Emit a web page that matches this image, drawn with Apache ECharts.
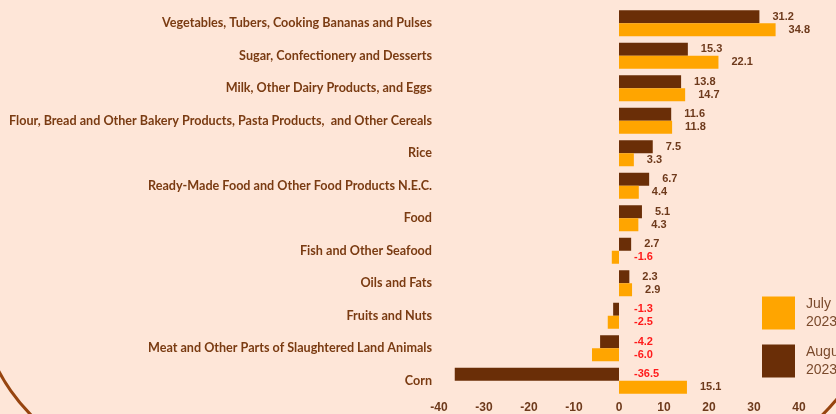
<!DOCTYPE html>
<html>
<head>
<meta charset="utf-8">
<script src="https://cdn.jsdelivr.net/npm/echarts@6/dist/echarts.min.js"></script>
<style>
html,body{margin:0;padding:0;background:#FEE6D8;}
#chart{width:836px;height:414px;}
</style>
</head>
<body>
<div id="chart"></div>
<script>
var categories = [
  'Vegetables, Tubers, Cooking Bananas and Pulses',
  'Sugar, Confectionery and Desserts',
  'Milk, Other Dairy Products, and Eggs',
  'Flour, Bread and Other Bakery Products, Pasta Products,  and Other Cereals',
  'Rice',
  'Ready-Made Food and Other Food Products N.E.C.',
  'Food',
  'Fish and Other Seafood',
  'Oils and Fats',
  'Fruits and Nuts',
  'Meat and Other Parts of Slaughtered Land Animals',
  'Corn'
];
var august2023 = [31.2, 15.3, 13.8, 11.6, 7.5, 6.7, 5.1, 2.7, 2.3, -1.3, -4.2, -36.5];
var july2023 = [34.8, 22.1, 14.7, 11.8, 3.3, 4.4, 4.3, -1.6, 2.9, -2.5, -6.0, 15.1];
var xTicks = [-40, -30, -20, -10, 0, 10, 20, 30, 40];
var seriesNames = ['August 2023', 'July 2023'];
var legendOrder = ['July 2023', 'August 2023'];

var DARK = '#6A2E07';
var ORANGE = '#FFA500';
var BROWN_TXT = '#6E3A1C';

function buildData(arr) {
  return arr.map(function (v) {
    return {
      value: v,
      label: {
        color: v < 0 ? '#FF1A1A' : BROWN_TXT,
        distance: v < 0 ? 15 : 13
      }
    };
  });
}

function fmt(p) { return Number(p.value).toFixed(1); }

var chart = echarts.init(document.getElementById('chart'));
var option = {
  backgroundColor: '#FEE6D8',
  animation: false,
  grid: { left: 439, right: 37, top: 7, bottom: 17, containLabel: false },
  legend: {
    data: legendOrder,
    orient: 'vertical',
    left: 762,
    top: 295,
    padding: 0,
    itemWidth: 33,
    itemHeight: 33,
    itemGap: 12,
    icon: 'rect',
    formatter: function (n) { return n.replace(' ', '\n'); },
    textStyle: {
      color: '#7A4A2C',
      fontSize: 14,
      lineHeight: 18,
      fontFamily: 'Liberation Sans',
      padding: [0, 0, 0, 6]
    }
  },
  xAxis: {
    type: 'value',
    min: xTicks[0],
    max: xTicks[xTicks.length - 1],
    interval: 10,
    axisLine: { show: false },
    axisTick: { show: false },
    splitLine: { show: false },
    axisLabel: {
      color: BROWN_TXT,
      fontSize: 12,
      fontWeight: 'bold',
      fontFamily: 'Liberation Sans',
      margin: 5
    }
  },
  yAxis: {
    type: 'category',
    inverse: true,
    data: categories,
    axisLine: { show: false },
    axisTick: { show: false },
    axisLabel: {
      color: '#7A3B12',
      fontSize: 12.6,
      fontWeight: 'bold',
      fontFamily: 'Lato',
      margin: 7
    }
  },
  series: [
    {
      name: seriesNames[0],
      type: 'bar',
      data: buildData(august2023),
      itemStyle: { color: DARK },
      barGap: '0%',
      barCategoryGap: '20%',
      label: {
        show: true,
        position: 'right',
        formatter: fmt,
        fontSize: 11,
        fontWeight: 'bold',
        fontFamily: 'Liberation Sans'
      }
    },
    {
      name: seriesNames[1],
      type: 'bar',
      data: buildData(july2023),
      itemStyle: { color: ORANGE },
      barGap: '0%',
      barCategoryGap: '20%',
      label: {
        show: true,
        position: 'right',
        formatter: fmt,
        fontSize: 11,
        fontWeight: 'bold',
        fontFamily: 'Liberation Sans'
      }
    }
  ],
  graphic: [
    {
      type: 'arc',
      shape: { cx: 155, cy: 290, r: 176, startAngle: 120 * Math.PI / 180, endAngle: 170 * Math.PI / 180 },
      style: { stroke: '#97440F', lineWidth: 3, fill: null },
      silent: true
    },
    {
      type: 'arc',
      shape: { cx: 690, cy: 280, r: 189, startAngle: 20 * Math.PI / 180, endAngle: 60 * Math.PI / 180 },
      style: { stroke: '#97440F', lineWidth: 3, fill: null },
      silent: true
    }
  ]
};
chart.setOption(option);
</script>
</body>
</html>
